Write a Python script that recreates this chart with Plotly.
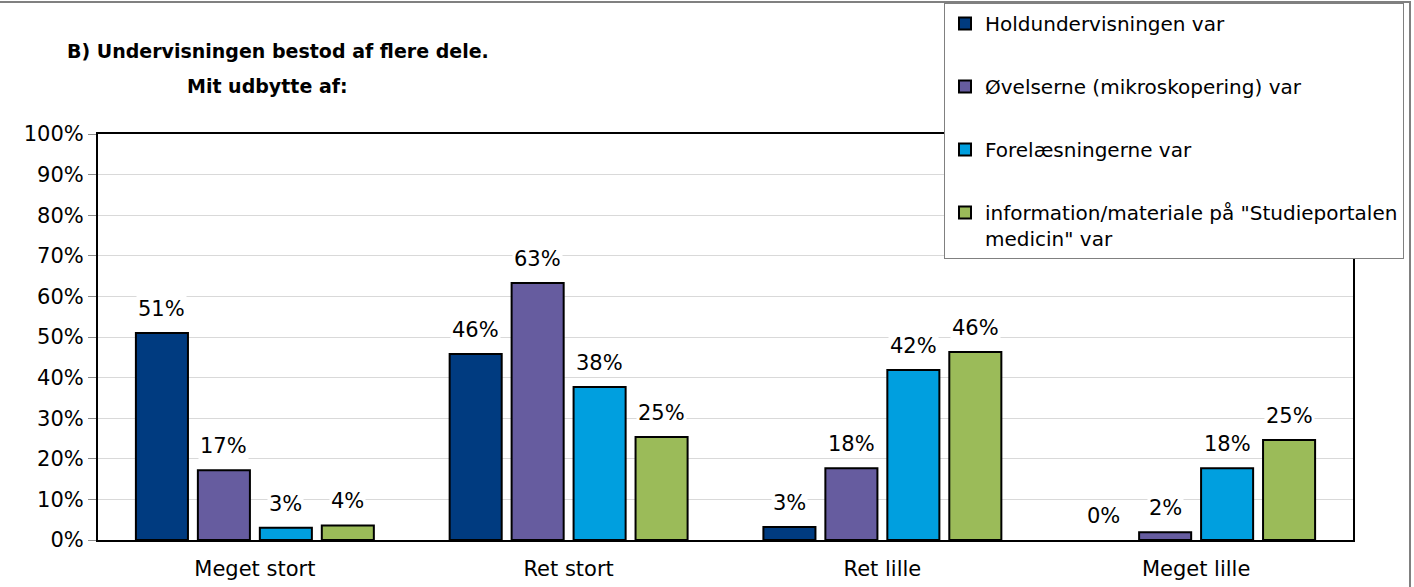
import plotly.graph_objects as go

categories = ["Meget stort", "Ret stort", "Ret lille", "Meget lille"]
series_names = [
    "Holdundervisningen var",
    "Øvelserne (mikroskopering) var",
    "Forelæsningerne var",
    "information/materiale på \"Studieportalen<br>medicin\" var",
]
hold = [0.51, 0.458, 0.032, 0.0]
ovelser = [0.172, 0.633, 0.177, 0.019]
forelaes = [0.03, 0.377, 0.419, 0.177]
info = [0.036, 0.254, 0.463, 0.246]
series_values = [hold, ovelser, forelaes, info]
colors = ["#003B80", "#665C9F", "#009FDF", "#9BBB59"]
y_ticks = [i / 10 for i in range(11)]

FONT = "DejaVu Sans"
W, H = 1414, 587
# target pixel positions of the plot area
SX0, SX1, SY0, SY1 = 98, 1353, 134, 540
L, T = SX0, SY0
PW, PH = SX1 - SX0, SY1 - SY0
R, B = W - L - PW, H - T - PH

def px_x(px):
    return (px - SX0) / PW

def px_y(py):
    return (SY1 - py) / PH

fig = go.Figure()
for i, (name, vals) in enumerate(zip(series_names, series_values)):
    fig.add_trace(go.Bar(
        x=categories, y=vals, name=name,
        marker=dict(color=colors[i],
                    line=dict(color="black", width=[2 if v > 0 else 0 for v in vals])),
        legendgroup=f"g{i}",
        hoverinfo="skip",
    ))

# data labels with white background
slot = PW / len(categories) * (1 - 0.21) / len(series_values)
offsets = [(i - (len(series_values) - 1) / 2) * slot for i in range(len(series_values))]
for i, vals in enumerate(series_values):
    for c, v in zip(categories, vals):
        fig.add_annotation(
            x=c, y=v, xref="x", yref="y", text=f"{v:.0%}",
            showarrow=False, xshift=offsets[i], yshift=10, yanchor="bottom",
            bgcolor="white", font=dict(family=FONT, size=21, color="black"),
        )

# title lines
fig.add_annotation(x=px_x(278), y=px_y(51), xref="paper", yref="paper",
                   text="<b>B) Undervisningen bestod af flere dele.</b>", showarrow=False,
                   xanchor="center", yanchor="middle",
                   font=dict(family=FONT, size=19, color="black"))
fig.add_annotation(x=px_x(267), y=px_y(86), xref="paper", yref="paper",
                   text="<b>Mit udbytte af:</b>", showarrow=False,
                   xanchor="center", yanchor="middle",
                   font=dict(family=FONT, size=19, color="black"))

# outer chart border (top and right visible)
fig.add_shape(type="rect", xref="paper", yref="paper",
              x0=px_x(-20), x1=px_x(1410), y0=px_y(620), y1=px_y(2),
              line=dict(color="#808080", width=2), fillcolor="rgba(0,0,0,0)", layer="below")

fig.update_layout(
    width=W, height=H,
    margin=dict(l=L, r=R, t=T, b=B, autoexpand=False),
    paper_bgcolor="white", plot_bgcolor="white",
    barmode="group", bargap=0.21, bargroupgap=0.16,
    font=dict(family=FONT, size=21, color="black"),
    showlegend=True,
    legend=dict(
        xref="container", yref="container",
        x=944 / W, y=1 - 3 / H, xanchor="left", yanchor="top",
        bgcolor="white", bordercolor="#808080", borderwidth=1,
        font=dict(family=FONT, size=20, color="black"),
        traceorder="grouped", tracegroupgap=34, valign="top",
        itemclick=False, itemdoubleclick=False,
    ),
    xaxis=dict(
        showline=True, linecolor="black", linewidth=2, mirror=True,
        showgrid=False, ticks="", tickfont=dict(size=21),
        ticklabelstandoff=9,
    ),
    yaxis=dict(
        range=[0, 1], tickvals=y_ticks, tickformat=".0%",
        showline=True, linecolor="black", linewidth=2, mirror=True,
        showgrid=True, gridcolor="#d9d9d9", gridwidth=1,
        ticks="outside", ticklen=8, tickcolor="#8c8c8c", tickwidth=1,
        tickfont=dict(size=21), zeroline=False,
    ),
)

fig.write_html("out.html", config={"displayModeBar": False},
               post_script="document.body.style.margin='0px';")
